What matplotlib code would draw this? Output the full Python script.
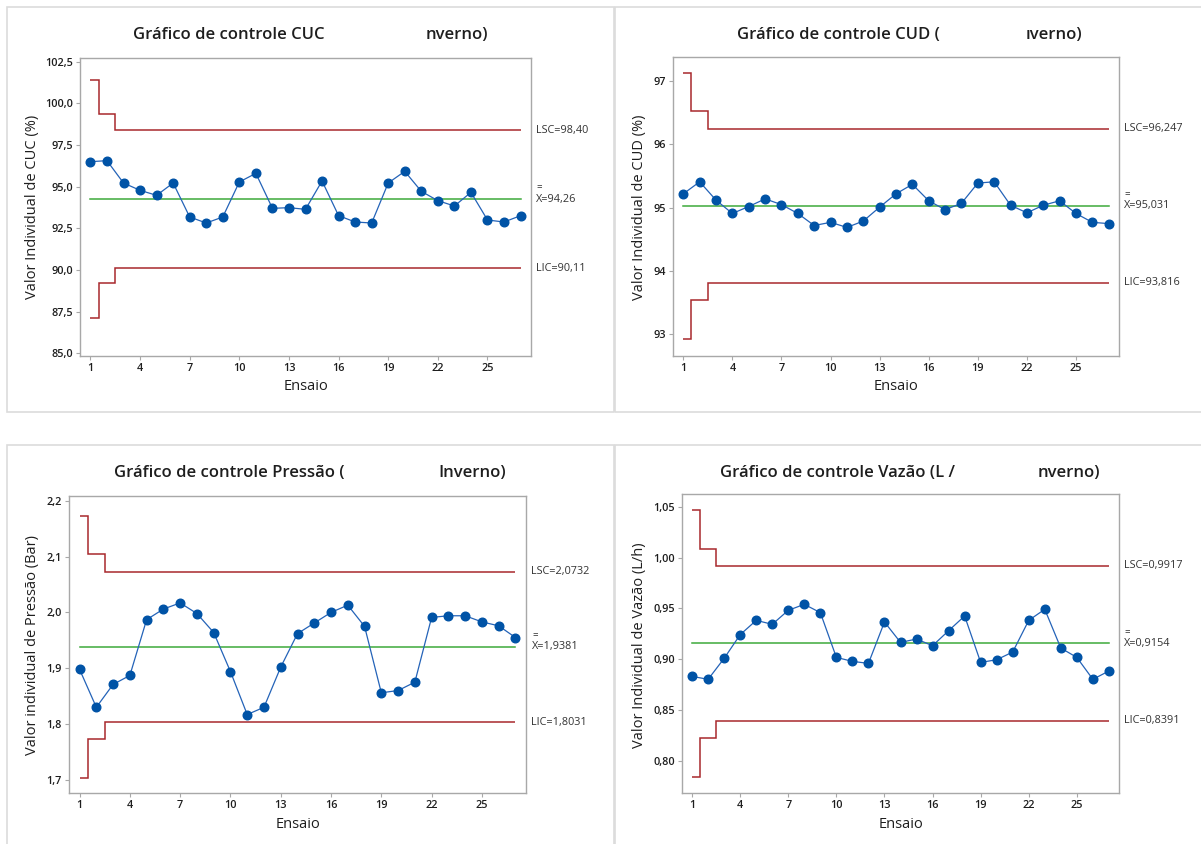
import matplotlib
matplotlib.use("Agg")
import matplotlib.pyplot as plt
import numpy as np
from matplotlib.patches import Rectangle
from matplotlib.ticker import FuncFormatter, FixedLocator

W, H = 1201, 844
plt.rcParams["font.family"] = ["Open Sans", "DejaVu Sans"]

ensaio = np.arange(1, 28)
xticks = [1, 4, 7, 10, 13, 16, 19, 22, 25]

# CUC (%)
cuc = [96.50, 96.56, 95.22, 94.78, 94.48, 95.22, 93.18, 92.82, 93.18, 95.28,
       95.80, 93.70, 93.74, 93.64, 95.34, 93.26, 92.88, 92.82, 95.22, 95.92,
       94.72, 94.16, 93.84, 94.66, 93.00, 92.88, 93.26]
cuc_lsc = [101.41, 99.34, 98.40]
cuc_media = 94.26
cuc_lic = [87.10, 89.20, 90.11]

# CUD (%)
cud = [95.22, 95.41, 95.12, 94.91, 95.02, 95.14, 95.05, 94.91, 94.72, 94.77,
       94.69, 94.79, 95.01, 95.22, 95.37, 95.11, 94.97, 95.07, 95.39, 95.41,
       95.04, 94.92, 95.04, 95.11, 94.91, 94.77, 94.75]
cud_lsc = [97.13, 96.52, 96.247]
cud_media = 95.031
cud_lic = [92.93, 93.54, 93.816]

# Pressao (Bar)
pressao = [1.898, 1.830, 1.871, 1.887, 1.987, 2.006, 2.017, 1.998, 1.964, 1.894,
           1.817, 1.830, 1.902, 1.962, 1.981, 2.000, 2.013, 1.975, 1.856, 1.860,
           1.875, 1.991, 1.994, 1.994, 1.983, 1.976, 1.955]
pressao_lsc = [2.172, 2.105, 2.0732]
pressao_media = 1.9381
pressao_lic = [1.704, 1.773, 1.8031]

# Vazao (L/h)
vazao = [0.8829, 0.8800, 0.9007, 0.9240, 0.9381, 0.9342, 0.9480, 0.9539, 0.9457,
         0.9016, 0.8977, 0.8957, 0.9365, 0.9164, 0.9197, 0.9131, 0.9279, 0.9424,
         0.8967, 0.8993, 0.9069, 0.9381, 0.9490, 0.9108, 0.9016, 0.8800, 0.8882]
vazao_lsc = [1.047, 1.008, 0.9917]
vazao_media = 0.9154
vazao_lic = [0.784, 0.8225, 0.8391]

RED = "#A8282C"
GREEN = "#3DAA3A"
BLUE = "#0053A6"
LINE = "#2463B8"
GRID = "#A8A8A8"
TXT = "#1E1E1E"


def vir(v, d):
    return f"{v:.{d}f}".replace(".", ",")


def px_axes(fig, l, t, r, b):
    return fig.add_axes([l / W, 1 - b / H, (r - l) / W, (b - t) / H])


def fig_text(fig, x, y, s, **kw):
    fig.text(x / W, 1 - y / H, s, **kw)


fig = plt.figure(figsize=(W / 100, H / 100), dpi=100)
fig.set_facecolor("white")

# panel frames
for (l, t, r, b) in [(7, 7, 614, 412), (615, 7, 1210, 412),
                     (7, 445, 614, 850), (615, 445, 1210, 850)]:
    fig.patches.append(Rectangle((l / W, 1 - b / H), (r - l) / W, (b - t) / H,
                                 transform=fig.transFigure, fill=False,
                                 edgecolor="#DCDCDC", lw=1.2))

panels = [
    dict(vals=cuc, lsc=cuc_lsc, media=cuc_media, lic=cuc_lic, dec=2,
         box=(80, 58, 531, 356), ylim=(84.84, 102.72),
         yticks=[85.0, 87.5, 90.0, 92.5, 95.0, 97.5, 100.0, 102.5], ydec=1,
         ylabel="Valor Individual de CUC (%)", ylx=33, yly=207, ex=306, ey=387,
         t1="Gráfico de controle CUC", t1x=133, t2="nverno)", t2x=488, ty=35),
    dict(vals=cud, lsc=cud_lsc, media=cud_media, lic=cud_lic, dec=3,
         box=(673, 57, 1119, 356), ylim=(92.66, 97.38),
         yticks=[93, 94, 95, 96, 97], ydec=0,
         ylabel="Valor Individual de CUD (%)", ylx=640, yly=207, ex=896, ey=387,
         t1="Gráfico de controle CUD (", t1x=737, t2="ıverno)", t2x=1082, ty=35),
    dict(vals=pressao, lsc=pressao_lsc, media=pressao_media, lic=pressao_lic, dec=4,
         box=(69, 496, 526, 793), ylim=(1.6764, 2.2086),
         yticks=[1.7, 1.8, 1.9, 2.0, 2.1, 2.2], ydec=1,
         ylabel="Valor individual de Pressão (Bar)", ylx=33, yly=645, ex=298, ey=825,
         t1="Gráfico de controle Pressão (", t1x=114, t2="Inverno)", t2x=506, ty=473),
    dict(vals=vazao, lsc=vazao_lsc, media=vazao_media, lic=vazao_lic, dec=4,
         box=(682, 494, 1119, 793), ylim=(0.768, 1.0626),
         yticks=[0.80, 0.85, 0.90, 0.95, 1.00, 1.05], ydec=2,
         ylabel="Valor Individual de Vazão (L/h)", ylx=640, yly=645, ex=901, ey=825,
         t1="Gráfico de controle Vazão (L /", t1x=720, t2="nverno)", t2x=1100, ty=473),
]

edges = [ensaio[0], ensaio[0] + 0.5, ensaio[1] + 0.5, ensaio[-1]]

for p in panels:
    ax = px_axes(fig, *p["box"])
    ax.set_xlim(0.37, 27.63)
    ax.set_ylim(*p["ylim"])

    ax.stairs(p["lsc"], edges, baseline=None, color=RED, lw=1.1)
    ax.stairs(p["lic"], edges, baseline=None, color=RED, lw=1.1)
    ax.plot([ensaio[0], ensaio[-1]], [p["media"]] * 2, color=GREEN, lw=1.1)
    ax.plot(ensaio, p["vals"], color=LINE, lw=0.9, marker="o", ms=6.2,
            mfc=BLUE, mec=BLUE, zorder=3)

    ax.xaxis.set_major_locator(FixedLocator(xticks))
    ax.yaxis.set_major_locator(FixedLocator(p["yticks"]))
    d = p["ydec"]
    ax.yaxis.set_major_formatter(FuncFormatter(lambda v, _, d=d: vir(v, d)))
    for s in ax.spines.values():
        s.set_color(GRID)
        s.set_linewidth(1.0)
    ax.tick_params(length=3, width=0.8, color=GRID, labelsize=7.8,
                   labelcolor=TXT, pad=2)
    for lab in ax.get_xticklabels() + ax.get_yticklabels():
        lab.set_fontweight("semibold")

    # limit labels
    tr = ax.get_yaxis_transform()
    kw = dict(transform=tr, fontsize=7.8, color="#333333", va="center",
              ha="left", clip_on=False)
    ax.text(1.012, p["lsc"][-1], "LSC=" + vir(p["lsc"][-1], p["dec"]), **kw)
    ax.text(1.012, p["media"], "X=" + vir(p["media"], p["dec"]), **kw)
    ax.annotate("=", xy=(1.012, p["media"]), xycoords=tr, xytext=(0.5, 11),
                textcoords="offset pixels", fontsize=7, color="#333333",
                va="center", ha="left", annotation_clip=False)
    ax.text(1.012, p["lic"][-1], "LIC=" + vir(p["lic"][-1], p["dec"]), **kw)

    fig_text(fig, p["ylx"], p["yly"], p["ylabel"], rotation=90, ha="center",
             va="center", fontsize=10.5, fontweight="medium", color=TXT)
    fig_text(fig, p["ex"], p["ey"], "Ensaio", ha="center", va="center",
             fontsize=10.5, fontweight="medium", color=TXT)
    fig_text(fig, p["t1x"], p["ty"], p["t1"], ha="left", va="center",
             fontsize=12, fontweight="semibold", color=TXT)
    fig_text(fig, p["t2x"], p["ty"], p["t2"], ha="right", va="center",
             fontsize=12, fontweight="semibold", color=TXT)

fig.savefig("out.png", dpi=100, facecolor="white")
